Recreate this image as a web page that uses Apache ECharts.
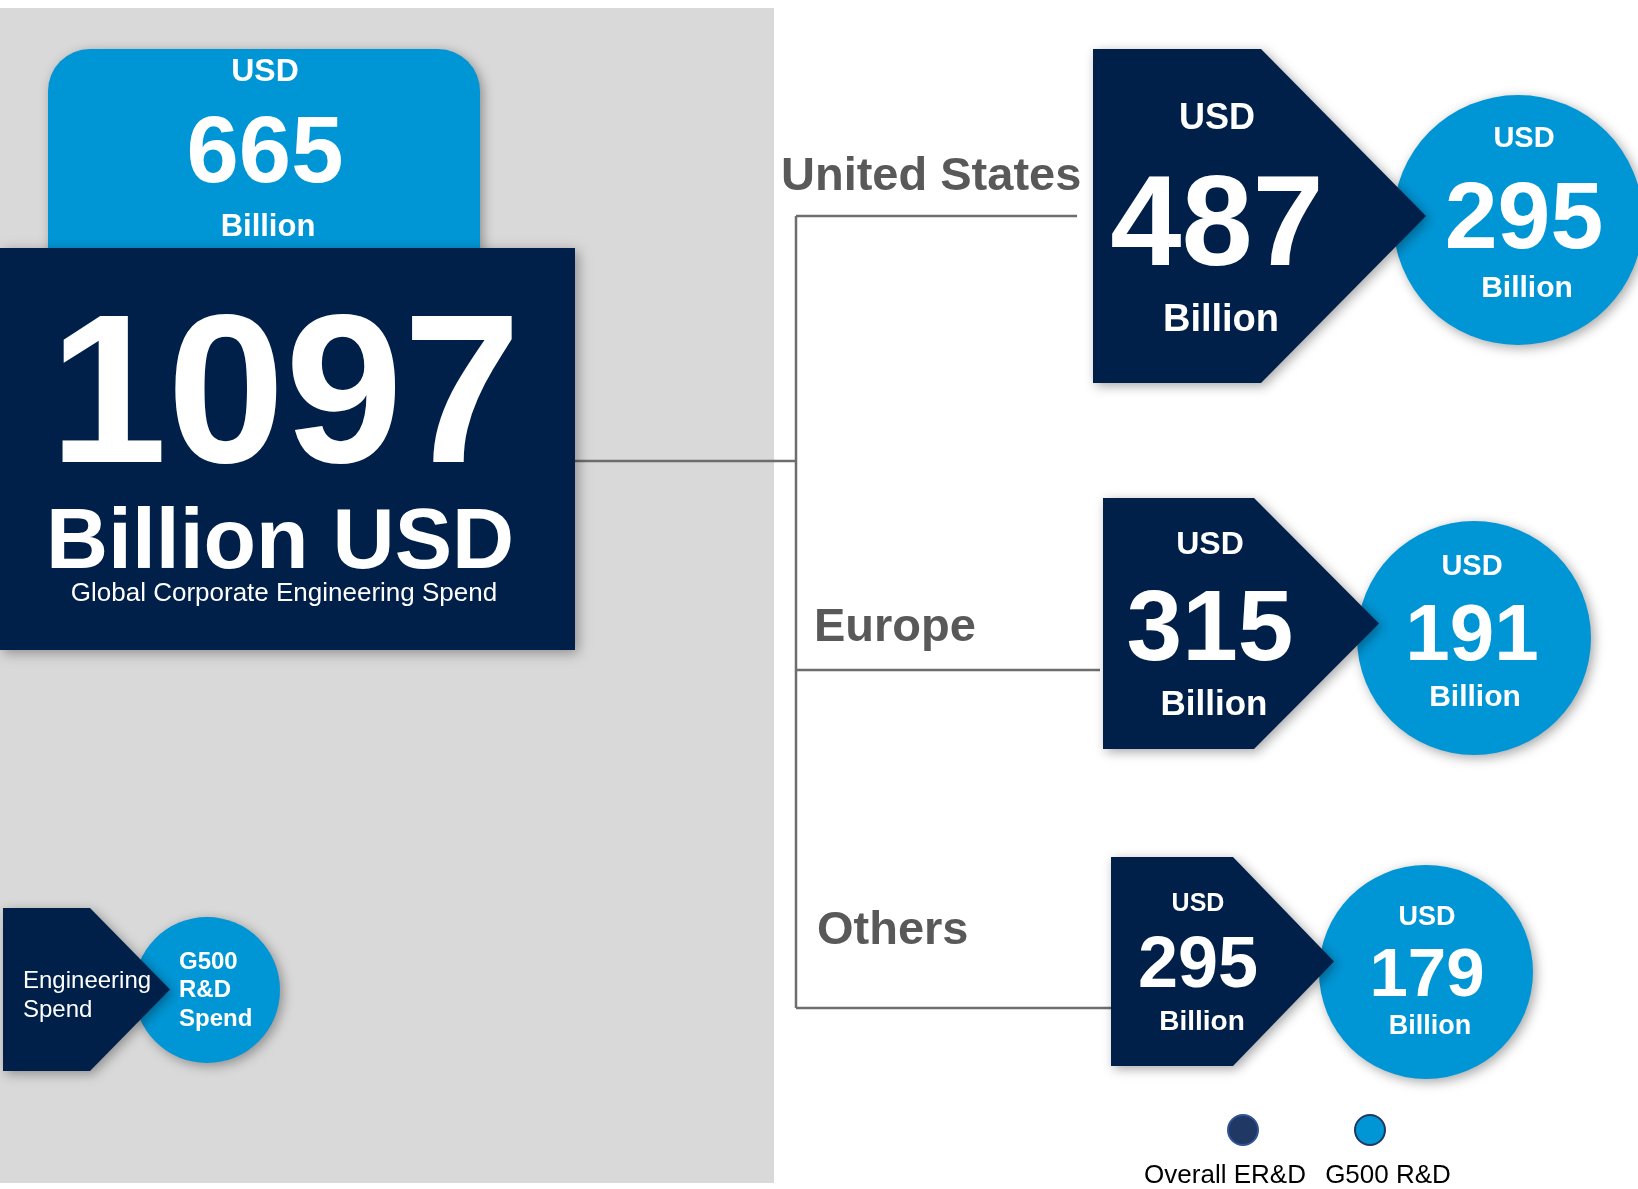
<!DOCTYPE html>
<html>
<head>
<meta charset="utf-8">
<title>Global Corporate Engineering Spend</title>
<script src="https://cdn.jsdelivr.net/npm/echarts@6/dist/echarts.min.js"></script>
<style>
  html, body { margin: 0; padding: 0; background: #fff; }
  #main { width: 1638px; height: 1189px; }
</style>
</head>
<body>
<div id="main"></div>
<script>
// data
var regions = ['United States', 'Europe', 'Others'];
var erdSpend = [487, 315, 295];      // overall ER&D, billion USD
var g500Spend = [295, 191, 179];     // G500 R&D, billion USD
var globalErd = 1097;
var globalG500 = 665;
var currency = 'USD';
var unit = 'Billion';
var legendNames = ['Overall ER&D', 'G500 R&D'];
var keyNames = [['Engineering', 'Spend'], ['G500', 'R&D', 'Spend']];

var NAVY = '#001F49', BLUE = '#0096D6', GREY = '#595959', LINE = '#6E6E6E';
var FF = '"Liberation Sans", Arial, Helvetica, sans-serif';

// placement of each region row (pixels)
var rowLayout = [
  { lx: 781, ly: 173, lineY: 216, lineEnd: 1077,
    pent: { l: 1093, t: 49, b: 383, f: 1261, tip: 1426 },
    circ: { cx: 1518, cy: 220, r: 125 },
    pt: { x: 1217, usd: [116, 36], val: [219, 128], bil: [317, 38] },
    ct: { x: 1524, usd: [137, 29], val: [214, 95], bil: [286, 30] } },
  { lx: 814, ly: 624, lineY: 670, lineEnd: 1100,
    pent: { l: 1103, t: 498, b: 749, f: 1254, tip: 1379 },
    circ: { cx: 1474, cy: 638, r: 117 },
    pt: { x: 1210, usd: [543, 32], val: [624, 100], bil: [703, 35] },
    ct: { x: 1472, usd: [565, 29], val: [632, 80], bil: [695, 30] } },
  { lx: 817, ly: 927, lineY: 1008, lineEnd: 1111,
    pent: { l: 1111, t: 857, b: 1066, f: 1233, tip: 1334 },
    circ: { cx: 1426, cy: 972, r: 107 },
    pt: { x: 1198, usd: [902, 25], val: [961, 72], bil: [1020, 28] },
    ct: { x: 1427, usd: [915, 27], val: [971, 69], bil: [1024, 27] } }
];

var shadow = { shadowBlur: 12, shadowColor: 'rgba(0,0,0,0.35)', shadowOffsetX: 3, shadowOffsetY: 3 };

// y is the visual centre of the glyphs; nudge down for the font's em-box middle
function txt(s, x, y, size, opt) {
  opt = opt || {};
  return {
    type: 'text', z: 20,
    style: {
      text: String(s), x: x, y: y + size * 0.08,
      fill: opt.fill || '#fff',
      font: (opt.weight || 'bold') + ' ' + size + 'px ' + FF,
      textAlign: opt.align || 'center',
      textVerticalAlign: 'middle'
    }
  };
}

function pentagon(p, z) {
  var mid = (p.t + p.b) / 2;
  return {
    type: 'polygon', z: z || 10,
    shape: { points: [[p.l, p.t], [p.f, p.t], [p.tip, mid], [p.f, p.b], [p.l, p.b]] },
    style: Object.assign({ fill: NAVY }, shadow)
  };
}

function circle(c, z) {
  return {
    type: 'circle', z: z || 5,
    shape: { cx: c.cx, cy: c.cy, r: c.r },
    style: Object.assign({ fill: BLUE }, shadow)
  };
}

var els = [];

// grey panel
els.push({ type: 'rect', z: 0, shape: { x: 0, y: 8, width: 774, height: 1175 }, style: { fill: '#D9D9D9' } });

// global G500 box and global total box
els.push({ type: 'rect', z: 2, shape: { x: 48, y: 49, width: 432, height: 260, r: [42, 42, 0, 0] },
  style: Object.assign({ fill: BLUE }, shadow) });
els.push(txt(currency, 265, 70, 32));
els.push(txt(globalG500, 265, 149, 94));
els.push(txt(unit, 268, 225, 31));

els.push({ type: 'rect', z: 3, shape: { x: 0, y: 248, width: 575, height: 402 },
  style: Object.assign({ fill: NAVY }, shadow) });
els.push(txt(globalErd, 285, 387, 212));
els.push(txt(unit + ' ' + currency, 280, 537, 86));
els.push(txt('Global Corporate Engineering Spend', 284, 592, 26, { weight: 'normal' }));

// connector lines
var ls = { stroke: LINE, lineWidth: 2.5 };
els.push({ type: 'line', z: 1, shape: { x1: 575, y1: 461, x2: 796, y2: 461 }, style: ls });
els.push({ type: 'line', z: 1, shape: { x1: 796, y1: rowLayout[0].lineY, x2: 796, y2: rowLayout[2].lineY }, style: ls });

regions.forEach(function (name, i) {
  var L = rowLayout[i];
  els.push({ type: 'line', z: 1, shape: { x1: 796, y1: L.lineY, x2: L.lineEnd, y2: L.lineY }, style: ls });
  els.push(txt(name, L.lx, L.ly, 47, { fill: GREY, align: 'left' }));
  els.push(circle(L.circ, 5));
  els.push(pentagon(L.pent, 10));
  els.push(txt(currency, L.pt.x, L.pt.usd[0], L.pt.usd[1]));
  els.push(txt(erdSpend[i], L.pt.x, L.pt.val[0], L.pt.val[1]));
  els.push(txt(unit, L.pt.x + 4, L.pt.bil[0], L.pt.bil[1]));
  els.push(txt(currency, L.ct.x, L.ct.usd[0], L.ct.usd[1]));
  els.push(txt(g500Spend[i], L.ct.x, L.ct.val[0], L.ct.val[1]));
  els.push(txt(unit, L.ct.x + 3, L.ct.bil[0], L.ct.bil[1]));
});

// key in the grey panel
els.push(circle({ cx: 207, cy: 990, r: 73 }, 5));
els.push(pentagon({ l: 3, t: 908, b: 1071, f: 90, tip: 170 }, 10));
keyNames[0].forEach(function (s, k) {
  els.push(txt(s, 23, 979 + k * 29, 24, { weight: 'normal', align: 'left' }));
});
keyNames[1].forEach(function (s, k) {
  els.push(txt(s, 179, 960 + k * 28.5, 24, { align: 'left' }));
});

// legend dots
var dotX = [1243, 1370];
var dotFill = ['#1F3864', BLUE];
var dotStroke = ['#2F5597', '#1F3864'];
legendNames.forEach(function (s, k) {
  els.push({ type: 'circle', z: 5, shape: { cx: dotX[k], cy: 1130, r: 15 },
    style: { fill: dotFill[k], stroke: dotStroke[k], lineWidth: 2 } });
});
els.push(txt(legendNames[0], 1225, 1174, 26, { weight: 'normal', fill: '#000' }));
els.push(txt(legendNames[1], 1388, 1174, 26, { weight: 'normal', fill: '#000' }));

var chart = echarts.init(document.getElementById('main'), null, { renderer: 'canvas' });
chart.setOption({
  backgroundColor: '#fff',
  animation: false,
  graphic: { elements: els }
});
</script>
</body>
</html>
